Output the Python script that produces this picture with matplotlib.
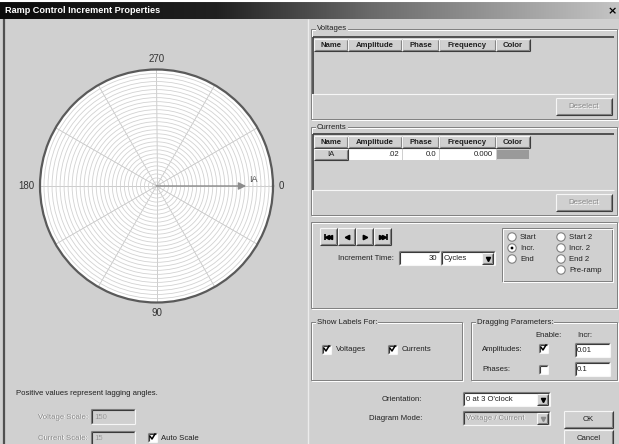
import numpy as np
import matplotlib
matplotlib.use('Agg')
import matplotlib.pyplot as plt
from matplotlib.patches import Rectangle, Circle
from matplotlib.colors import LinearSegmentedColormap

plt.rcParams['font.family'] = ['Liberation Sans Narrow', 'Liberation Sans', 'DejaVu Sans']

# phasor data (currents table / diagram)
current_names = ['IA']
current_amps = [0.02]
current_phases = [0.0]
current_freqs = [0.0]
current_colors = ['#9a9a9a']

table_cols = ['Name', 'Amplitude', 'Phase', 'Frequency', 'Color']
angle_labels = [0, 90, 180, 270]
spoke_angles = np.arange(0, 360, 30)
r_max = 0.026
n_rings = 29

radio_left = ['Start', 'Incr.', 'End']
radio_right = ['Start 2', 'Incr. 2', 'End 2', 'Pre-ramp']
radio_selected = 'Incr.'

W, H = 619, 444
BG = '#d0d0d0'
SHADOW = '#808080'
DARKEST = '#3a3a3a'
HILITE = '#f6f6f6'
GREYTXT = '#8a8a8a'
FS = 5.6

fig = plt.figure(figsize=(W / 100, H / 100), dpi=100, facecolor=BG)
ui = fig.add_axes([0, 0, 1, 1])
ui.set_xlim(0, W)
ui.set_ylim(H, 0)
ui.axis('off')


def line(x0, y0, x1, y1, c, lw=0.8):
    ui.plot([x0, x1], [y0, y1], color=c, lw=lw, solid_capstyle='butt')


def rect(x0, y0, x1, y1, fc):
    ui.add_patch(Rectangle((x0, y0), x1 - x0, y1 - y0, fc=fc, ec='none'))


def raised(x0, y0, x1, y1, face=BG):
    rect(x0, y0, x1, y1, face)
    line(x0, y0, x1, y0, HILITE)
    line(x0, y0, x0, y1, HILITE)
    line(x0, y1, x1, y1, DARKEST)
    line(x1, y0, x1, y1, DARKEST)
    line(x0 + 1, y1 - 1, x1 - 1, y1 - 1, SHADOW)
    line(x1 - 1, y0 + 1, x1 - 1, y1 - 1, SHADOW)


def sunken(x0, y0, x1, y1, face='white'):
    rect(x0, y0, x1, y1, face)
    line(x0, y0, x1, y0, SHADOW)
    line(x0, y0, x0, y1, SHADOW)
    line(x0 + 1, y0 + 1, x1 - 1, y0 + 1, DARKEST)
    line(x0 + 1, y0 + 1, x0 + 1, y1 - 1, DARKEST)
    line(x0, y1, x1, y1, HILITE)
    line(x1, y0, x1, y1, HILITE)


def group(x0, y0, x1, y1, label=None):
    ui.add_patch(Rectangle((x0 + 1, y0 + 1), x1 - x0, y1 - y0, fc='none', ec='white', lw=0.7))
    ui.add_patch(Rectangle((x0, y0), x1 - x0, y1 - y0, fc='none', ec=SHADOW, lw=0.7))
    if label:
        ui.text(x0 + 6, y0, label, ha='left', va='center', fontsize=FS, color='#202020',
                bbox=dict(fc=BG, ec='none', pad=0.6))


def label(x, y, s, ha='left', color='#202020', size=FS, **kw):
    ui.text(x, y, s, ha=ha, va='center', fontsize=size, color=color, **kw)


def grey_label(x, y, s, ha='left'):
    ui.text(x + 0.8, y + 0.8, s, ha=ha, va='center', fontsize=FS, color='white')
    ui.text(x, y, s, ha=ha, va='center', fontsize=FS, color=GREYTXT)


def checkbox(x, y, checked):
    sunken(x, y - 4.5, x + 9, y + 4.5)
    if checked:
        ui.plot([x + 2.2, x + 4, x + 7], [y - 0.5, y + 2, y - 3], color='black', lw=1.1)


def radio(x, y, on):
    ui.add_patch(Circle((x, y), 4.2, fc='white', ec=SHADOW, lw=0.8))
    if on:
        ui.add_patch(Circle((x, y), 1.4, fc='black', ec='none'))


def combo(x0, y0, x1, y1, text, enabled=True):
    sunken(x0, y0, x1, y1, 'white' if enabled else BG)
    raised(x1 - 13, y0 + 2, x1 - 2, y1 - 1)
    ui.plot([x1 - 7.5], [(y0 + y1) / 2 + 0.5], marker='v', ms=3,
            color='black' if enabled else GREYTXT, ls='none')
    if enabled:
        label(x0 + 3, (y0 + y1) / 2, text)
    else:
        grey_label(x0 + 3, (y0 + y1) / 2, text)


# window title bar
grad = LinearSegmentedColormap.from_list(
    'title', [(0, '#0c0c0c'), (0.35, '#202020'), (0.6, '#6a6a6a'), (1, '#c4c4c4')])
ui.imshow(np.linspace(0, 1, 256)[None, :], extent=[0, W, 19, 2], cmap=grad, aspect='auto', zorder=0)
line(0, 1, W, 1, 'white', 1.5)
ui.text(5, 10.5, 'Ramp Control Increment Properties', ha='left', va='center', fontsize=6.6,
        fontweight='bold', color='white', family=['Liberation Sans', 'DejaVu Sans'])
ui.text(612, 11, '×', ha='center', va='center', fontsize=8, fontweight='bold', color='black',
        family='DejaVu Sans')
line(4, 19, 4, H, '#505050', 1.6)
line(308, 19, 308, H, '#ececec', 1.0)

# ---- left: polar phasor diagram ----
cx, cy, R = 156.5, 186, 116.5
pax = fig.add_axes([(cx - R) / W, (H - cy - R) / H, 2 * R / W, 2 * R / H], projection='polar')
pax.set_facecolor('white')
pax.set_theta_zero_location('E')
pax.set_theta_direction(-1)
pax.set_ylim(0, r_max)
rings = np.linspace(0, r_max, n_rings + 1)[1:-1]
pax.set_yticks(rings)
pax.set_yticklabels([])
pax.set_xticks(np.deg2rad(spoke_angles))
pax.set_xticklabels([])
pax.grid(True, axis='y', color='#d2d2d2', lw=0.6)
pax.grid(True, axis='x', color='#c4c4c4', lw=0.6)
pax.spines['polar'].set_color('#5a5a5a')
pax.spines['polar'].set_linewidth(1.6)
pax.tick_params(length=0)

for a in angle_labels:
    ha = {0: 'left', 90: 'center', 180: 'right', 270: 'center'}[a]
    va = {0: 'center', 90: 'top', 180: 'center', 270: 'bottom'}[a]
    pax.text(np.deg2rad(a), r_max * 1.045, str(a), ha=ha, va=va, fontsize=7,
             color='#333333', family=['Liberation Sans', 'DejaVu Sans'], clip_on=False)

for name, amp, ph in zip(current_names, current_amps, current_phases):
    th = np.deg2rad(ph)
    pax.annotate('', xy=(th, amp), xytext=(0, 0),
                 arrowprops=dict(arrowstyle='-|>', color='#8c8c8c', lw=1.0, mutation_scale=11,
                                 shrinkA=0, shrinkB=0))
    pax.annotate(name, xy=(th, amp), xytext=(2, 5), textcoords='offset points', fontsize=6.5,
                 color='#555555', ha='left', va='center')

# ---- right: voltage and current tables ----
col_edges = [314, 348, 402, 439, 496, 530]


def table(y_top, y_bot, rows):
    rect(313, y_top, 614, y_bot, BG)
    line(313, y_top, 614, y_top, DARKEST, 1.2)
    line(313, y_top, 313, y_bot, DARKEST, 1.2)
    line(313, y_bot, 614, y_bot, HILITE)
    hy0, hy1 = y_top + 2, y_top + 14
    for i, c in enumerate(table_cols):
        raised(col_edges[i], hy0, col_edges[i + 1], hy1)
        label((col_edges[i] + col_edges[i + 1]) / 2, (hy0 + hy1) / 2 + 0.3, c, ha='center',
              fontweight='bold')
    for k, (name, amp, ph, fr, colr) in enumerate(rows):
        ry0, ry1 = hy1 + 1 + 11 * k, hy1 + 12 + 11 * k
        raised(col_edges[0], ry0, col_edges[1], ry1)
        label((col_edges[0] + col_edges[1]) / 2, (ry0 + ry1) / 2, name, ha='center')
        vals = [('%.2f' % amp).lstrip('0'), '%.1f' % ph, '%.3f' % fr]
        for j, v in enumerate(vals):
            rect(col_edges[j + 1] + 0.5, ry0, col_edges[j + 2] - 0.5, ry1, 'white')
            label(col_edges[j + 2] - 3, (ry0 + ry1) / 2, v, ha='right')
        rect(col_edges[4] + 1, ry0 + 1, col_edges[5] - 1, ry1 - 1, colr)


group(311, 29, 617, 119, 'Voltages')
table(37, 94, [])
raised(556, 98, 612, 115)
grey_label(584, 106.5, 'Deselect', ha='center')

group(311, 127, 617, 215, 'Currents')
table(134, 190, list(zip(current_names, current_amps, current_phases, current_freqs, current_colors)))
raised(556, 194, 612, 211)
grey_label(584, 202.5, 'Deselect', ha='center')

# ---- increment controls ----
group(311, 222, 617, 308)
nav = [('<', True, True), ('<', False, False), ('>', False, False), ('>', True, True)]
for i, (m, bar, dbl) in enumerate(nav):
    x0 = 320 + i * 18
    raised(x0, 228, x0 + 17, 245)
    xm = x0 + 8.5
    if dbl:
        off = [-1.5, 1.5]
        ui.plot([xm + o for o in off], [236.5, 236.5], marker=m, ms=3, color='black', ls='none')
        bx = xm - 4 if m == '<' else xm + 4
        line(bx, 233.5, bx, 239.5, 'black', 1.2)
    else:
        ui.plot([xm], [236.5], marker=m, ms=3.2, color='black', ls='none')

label(394, 258, 'Increment Time:', ha='right')
sunken(399, 251, 440, 265)
label(437, 258, '30', ha='right')
combo(441, 251, 495, 265, 'Cycles')

ui.add_patch(Rectangle((502, 228), 110, 53, fc='none', ec=SHADOW, lw=0.7))
ui.add_patch(Rectangle((503, 229), 110, 53, fc='none', ec='white', lw=0.7))
for k, s in enumerate(radio_left):
    y = 237 + 11 * k
    radio(512, y, s == radio_selected)
    label(520, y, s)
for k, s in enumerate(radio_right):
    y = 237 + 11 * k
    radio(561, y, s == radio_selected)
    label(569, y, s)

# ---- label / dragging options ----
group(311, 322, 462, 380, 'Show Labels For:')
checkbox(322, 349, True)
label(336, 349, 'Voltages')
checkbox(388, 349, True)
label(402, 349, 'Currents')

group(471, 322, 617, 380, 'Dragging Parameters:')
label(535, 335, 'Enable:')
label(577, 335, 'Incr:')
label(482, 349, 'Amplitudes:')
checkbox(539, 348, True)
sunken(575, 343, 610, 357)
label(577, 350, '0.01')
label(482, 369, 'Phases:')
checkbox(539, 369, False)
sunken(575, 362, 610, 376)
label(577, 369, '0.1')

label(422, 399, 'Orientation:', ha='right')
combo(463, 392, 550, 406, "0 at 3 O'clock")
label(422, 418, 'Diagram Mode:', ha='right')
combo(463, 411, 550, 425, 'Voltage / Current', enabled=False)
raised(564, 411, 613, 428)
label(588.5, 419.5, 'OK', ha='center')
raised(564, 430, 613, 447)
label(588.5, 438, 'Cancel', ha='center')

# ---- scale settings ----
label(16, 393, 'Positive values represent lagging angles.')
grey_label(88, 417, 'Voltage Scale:', ha='right')
sunken(91, 409, 135, 424, BG)
grey_label(94, 417, '150')
grey_label(88, 438, 'Current Scale:', ha='right')
sunken(91, 431, 135, 446, BG)
grey_label(94, 438, '15')
checkbox(148, 437, True)
label(161, 438, 'Auto Scale')

fig.savefig('out.png', dpi=100, facecolor=BG)
